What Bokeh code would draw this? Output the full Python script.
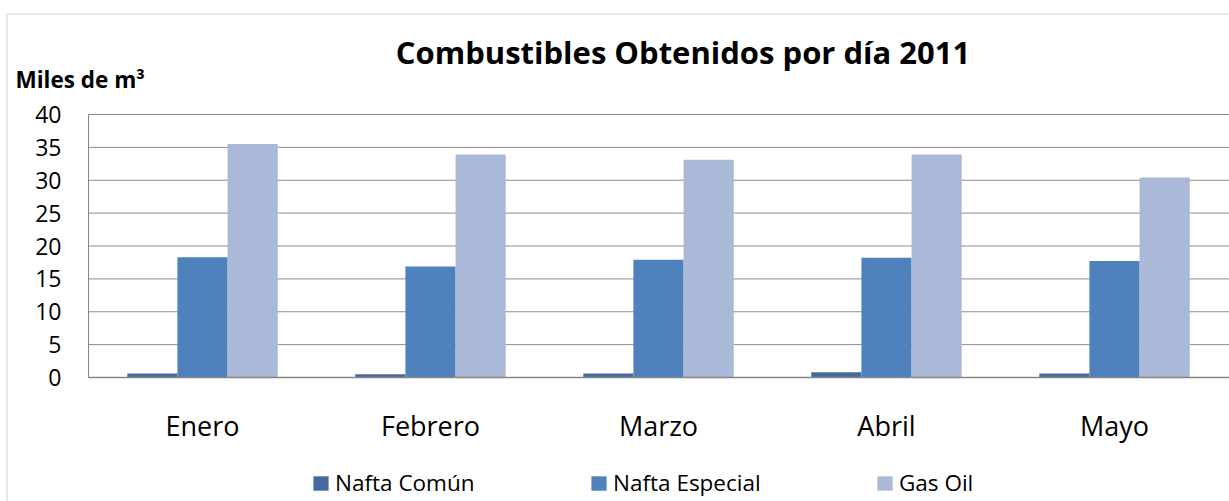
from bokeh.plotting import figure
from bokeh.models import (Range1d, ColumnDataSource, FixedTicker, Legend,
                          LegendItem, Label, BoxAnnotation)
from bokeh.embed import file_html
from bokeh.resources import INLINE

months = ["Enero", "Febrero", "Marzo", "Abril", "Mayo"]
nafta_comun = [0.6, 0.5, 0.6, 0.8, 0.6]
nafta_especial = [18.3, 16.9, 17.9, 18.2, 17.7]
gas_oil = [35.5, 33.9, 33.1, 33.9, 30.4]
series_names = ["Nafta Común", "Nafta Especial", "Gas Oil"]
y_ticks = [0, 5, 10, 15, 20, 25, 30, 35, 40]

colors = ["#46699E", "#4F81BD", "#AAB9D7"]
FONT = "Open Sans"

# layout: the frame covers the whole canvas; plot area in pixels
W, H = 1229, 501
PX_LEFT, PX_ZERO, PX_TOP = 88, 377, 114
CAT_PX = 228
Y_MAX = y_ticks[-1]
PX_PER_Y = (PX_ZERO - PX_TOP) / Y_MAX


def xd(px):
    return -0.5 + (px - PX_LEFT) / CAT_PX


def yd(py):
    return (PX_ZERO - py) / PX_PER_Y


idx = list(range(len(months)))
series = [nafta_comun, nafta_especial, gas_oil]

p = figure(x_range=Range1d(xd(0), xd(W)), y_range=Range1d(yd(H), yd(0)),
           width=W, height=H, output_backend="svg", toolbar_location=None,
           min_border=0)
p.min_border_left = p.min_border_right = p.min_border_top = p.min_border_bottom = 0
p.outline_line_color = None
p.background_fill_color = "white"
p.border_fill_color = "white"
p.xgrid.grid_line_color = None
p.ygrid.grid_line_color = None

# chart border
p.add_layout(BoxAnnotation(left=xd(6.5), right=xd(W + 100), top=yd(13.5), bottom=yd(H + 100),
                           fill_color=None, fill_alpha=0, line_color="#7A9DCD",
                           line_width=1.5, level="underlay"))

# horizontal gridlines
p.segment(x0=-0.5, x1=xd(W), y0=y_ticks[1:], y1=y_ticks[1:], line_color="#8c8c8c", line_width=1)

w = 0.22
renderers = []
for off, vals, c in zip([-w, 0, w], series, colors):
    src = ColumnDataSource(dict(x=[i + off for i in idx], top=vals))
    r = p.vbar(x="x", top="top", width=w, source=src, fill_color=c, line_color=None)
    renderers.append(r)

# axes drawn at fixed locations inside the frame
yax = p.yaxis[0]
yax.fixed_location = -0.5
yax.bounds = (0, Y_MAX)
yax.ticker = FixedTicker(ticks=y_ticks)
yax.major_tick_line_color = None
yax.minor_tick_line_color = None
yax.major_tick_out = 0
yax.major_tick_in = 0
yax.axis_line_color = "#868686"
yax.major_label_text_font = FONT
yax.major_label_text_font_size = "23px"
yax.major_label_text_color = "black"
yax.major_label_standoff = 27

xax = p.xaxis[0]
xax.fixed_location = 0
xax.bounds = (-0.5, xd(W))
xax.ticker = FixedTicker(ticks=idx)
xax.major_label_overrides = {i: m for i, m in zip(idx, months)}
xax.major_tick_line_color = None
xax.minor_tick_line_color = None
xax.major_tick_out = 0
xax.major_tick_in = 0
xax.axis_line_color = "#868686"
xax.axis_line_width = 1.5
xax.major_label_text_font = FONT
xax.major_label_text_font_size = "27px"
xax.major_label_text_color = "black"
xax.major_label_standoff = 29

# title and axis title
p.add_layout(Label(x=xd(682.5), y=yd(51),
                   text="Combustibles Obtenidos por día 2011", text_align="center",
                   text_baseline="alphabetic", text_font=FONT, text_font_style="bold",
                   text_font_size="31px", text_color="black"))
p.add_layout(Label(x=xd(15), y=yd(79),
                   text="Miles de m³", text_align="left",
                   text_baseline="alphabetic", text_font=FONT, text_font_style="bold",
                   text_font_size="22.5px", text_color="black"))

# legends, one per item
leg_x = [311, 589, 875]
for name, r, lx in zip(series_names, renderers, leg_x):
    lg = Legend(items=[LegendItem(label=name, renderers=[r])], location=(lx, 3),
                orientation="horizontal", border_line_color=None,
                background_fill_alpha=0, margin=0, padding=0,
                glyph_width=19, glyph_height=18, label_standoff=5,
                label_text_font=FONT, label_text_font_size="22.5px",
                label_text_color="black")
    p.add_layout(lg, "center")

open("out.html", "w").write(file_html(p, INLINE))
